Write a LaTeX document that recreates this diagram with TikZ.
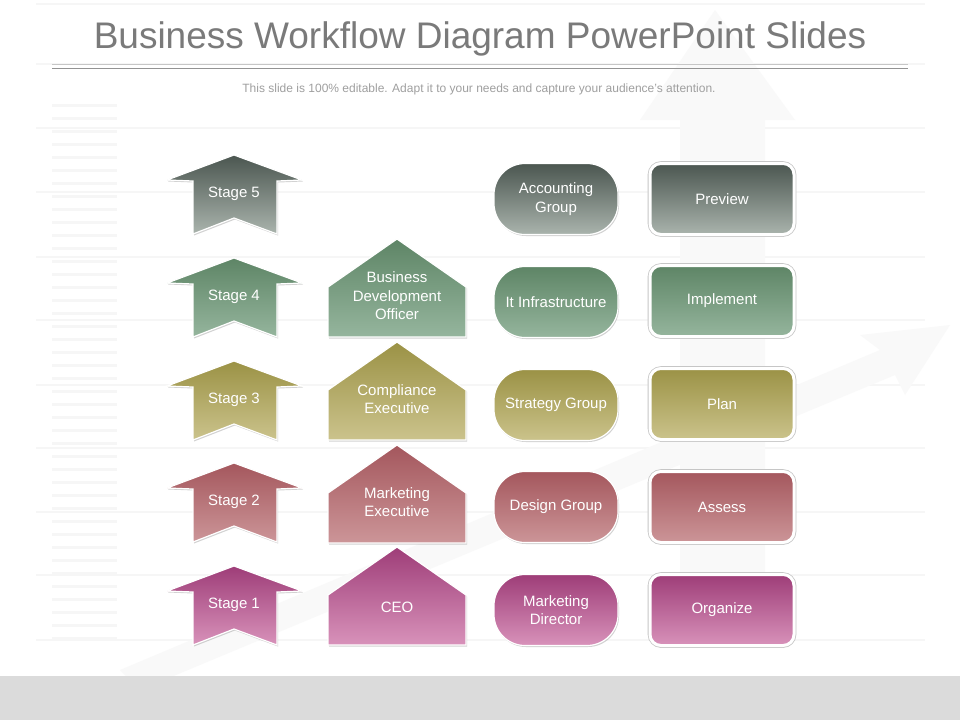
\documentclass[tikz,border=0pt]{standalone}
\usepackage{fontspec}
\setmainfont{Liberation Sans}
\usetikzlibrary{shadows}
\definecolor{fiveT}{HTML}{4B5650}
\definecolor{fiveB}{HTML}{AAB4AD}
\definecolor{fourT}{HTML}{5E8566}
\definecolor{fourB}{HTML}{95B59D}
\definecolor{threeT}{HTML}{9B9245}
\definecolor{threeB}{HTML}{CBC38C}
\definecolor{twoT}{HTML}{A4575D}
\definecolor{twoB}{HTML}{CC9598}
\definecolor{oneT}{HTML}{9E3D78}
\definecolor{oneB}{HTML}{D892BA}
\definecolor{titlegray}{HTML}{7A7A7A}
\definecolor{faint}{HTML}{F6F6F6}
\definecolor{fainter}{HTML}{F9F9F9}
\tikzset{
  x=1pt, y=-1pt,
  lbl/.style={text=white, font=\fontsize{15}{18.5}\selectfont, align=center, inner sep=0pt},
  shp/.style={draw=white, line width=1.2pt, drop shadow={opacity=0.35, shadow xshift=1pt, shadow yshift=-1.5pt}},
  pill/.style={shp, minimum width=124pt, minimum height=71pt, rounded corners=31pt, inner sep=0pt},
  rbox/.style={draw=white, line width=3pt, minimum width=144pt, minimum height=71pt, rounded corners=11pt,
     inner sep=0pt, drop shadow={opacity=0.45, shadow xshift=0.5pt, shadow yshift=-1pt},
     preaction={draw=gray!45, line width=4.6pt}},
}
\newcommand\StageArrow[3]{% y, top colour, bottom colour
  \begin{scope}[shift={(0,#1)}]
    \path[shp, top color=#2, bottom color=#3]
      (234,-39) -- (302,-14) -- (277,-13) -- (277,40) -- (234,24) -- (193,40) -- (193,-13) -- (167,-14) -- cycle;
  \end{scope}
}
\newcommand\House[3]{% bottom y, top colour, bottom colour
  \begin{scope}[shift={(0,#1)}]
    \path[shp, top color=#2, bottom color=#3]
      (397,-98) -- (466,-50) -- (466,0) -- (328,0) -- (328,-50) -- cycle;
  \end{scope}
}
\begin{document}
\begin{tikzpicture}
\useasboundingbox (0,0) rectangle (960,720);
\fill[white] (0,0) rectangle (960,720);
% faint background watermark
\foreach \yy in {105,118,...,640} {\draw[faint, line width=3pt] (52,\yy) -- (117,\yy);}
\foreach \yy in {4,64,128,192,257,320,385,448,512,575,640} {\draw[faint, line width=2pt] (36,\yy) -- (925,\yy);}
\fill[fainter] (715,10) -- (795,120) -- (765,120) -- (765,640) -- (680,640) -- (680,120) -- (640,120) -- cycle;
\fill[fainter] (120,670) -- (880,350) -- (860,335) -- (950,325) -- (905,395) -- (895,375) -- (140,690) -- cycle;
% bottom band
\fill[gray!28] (0,676) rectangle (960,720);
% title
\node[text=titlegray, font=\fontsize{37}{40}\selectfont, inner sep=0pt] (title) at (480,39) {Business Workflow Diagram PowerPoint Slides};
\draw[gray!45, line width=0.6pt] (52,64.5) -- (908,64.5);
\draw[gray!85, line width=0.8pt] (52,68) -- (908,68);
\node[text=gray!75, font=\fontsize{12}{14}\selectfont, inner sep=0pt] (sub) at (479,89) {This slide is 100\% editable. Adapt it to your needs and capture your audience’s attention.};
% stage arrows
\StageArrow{194}{fiveT}{fiveB}
\StageArrow{297}{fourT}{fourB}
\StageArrow{400}{threeT}{threeB}
\StageArrow{502}{twoT}{twoB}
\StageArrow{605}{oneT}{oneB}
\node[lbl] (s5) at (234,194) {Stage 5};
\node[lbl] (s4) at (234,297) {Stage 4};
\node[lbl] (s3) at (234,400) {Stage 3};
\node[lbl] (s2) at (234,502) {Stage 2};
\node[lbl] (s1) at (234,605) {Stage 1};
% houses
\House{337}{fourT}{fourB}
\House{440}{threeT}{threeB}
\House{543}{twoT}{twoB}
\House{645}{oneT}{oneB}
\node[lbl] (bdo) at (397,296) {Business\\Development\\Officer};
\node[lbl] (ce) at (397,399) {Compliance\\Executive};
\node[lbl] (me) at (397,502) {Marketing\\Executive};
\node[lbl] (ceo) at (397,607) {CEO};
% pills
\node[pill, lbl, top color=fiveT, bottom color=fiveB] (ag) at (556,199) {Accounting\\Group};
\node[pill, lbl, top color=fourT, bottom color=fourB] (it) at (556,302) {It Infrastructure};
\node[pill, lbl, top color=threeT, bottom color=threeB] (sg) at (556,405) {Strategy Group};
\node[pill, lbl, top color=twoT, bottom color=twoB] (dg) at (556,507) {Design Group};
\node[pill, lbl, top color=oneT, bottom color=oneB] (md) at (556,610) {Marketing\\Director};
% boxes
\node[rbox, lbl, top color=fiveT, bottom color=fiveB] (pv) at (722,199) {Preview};
\node[rbox, lbl, top color=fourT, bottom color=fourB] (im) at (722,301) {Implement};
\node[rbox, lbl, top color=threeT, bottom color=threeB] (pl) at (722,404) {Plan};
\node[rbox, lbl, top color=twoT, bottom color=twoB] (as) at (722,507) {Assess};
\node[rbox, lbl, top color=oneT, bottom color=oneB] (or) at (722,610) {Organize};
\end{tikzpicture}
\end{document}
